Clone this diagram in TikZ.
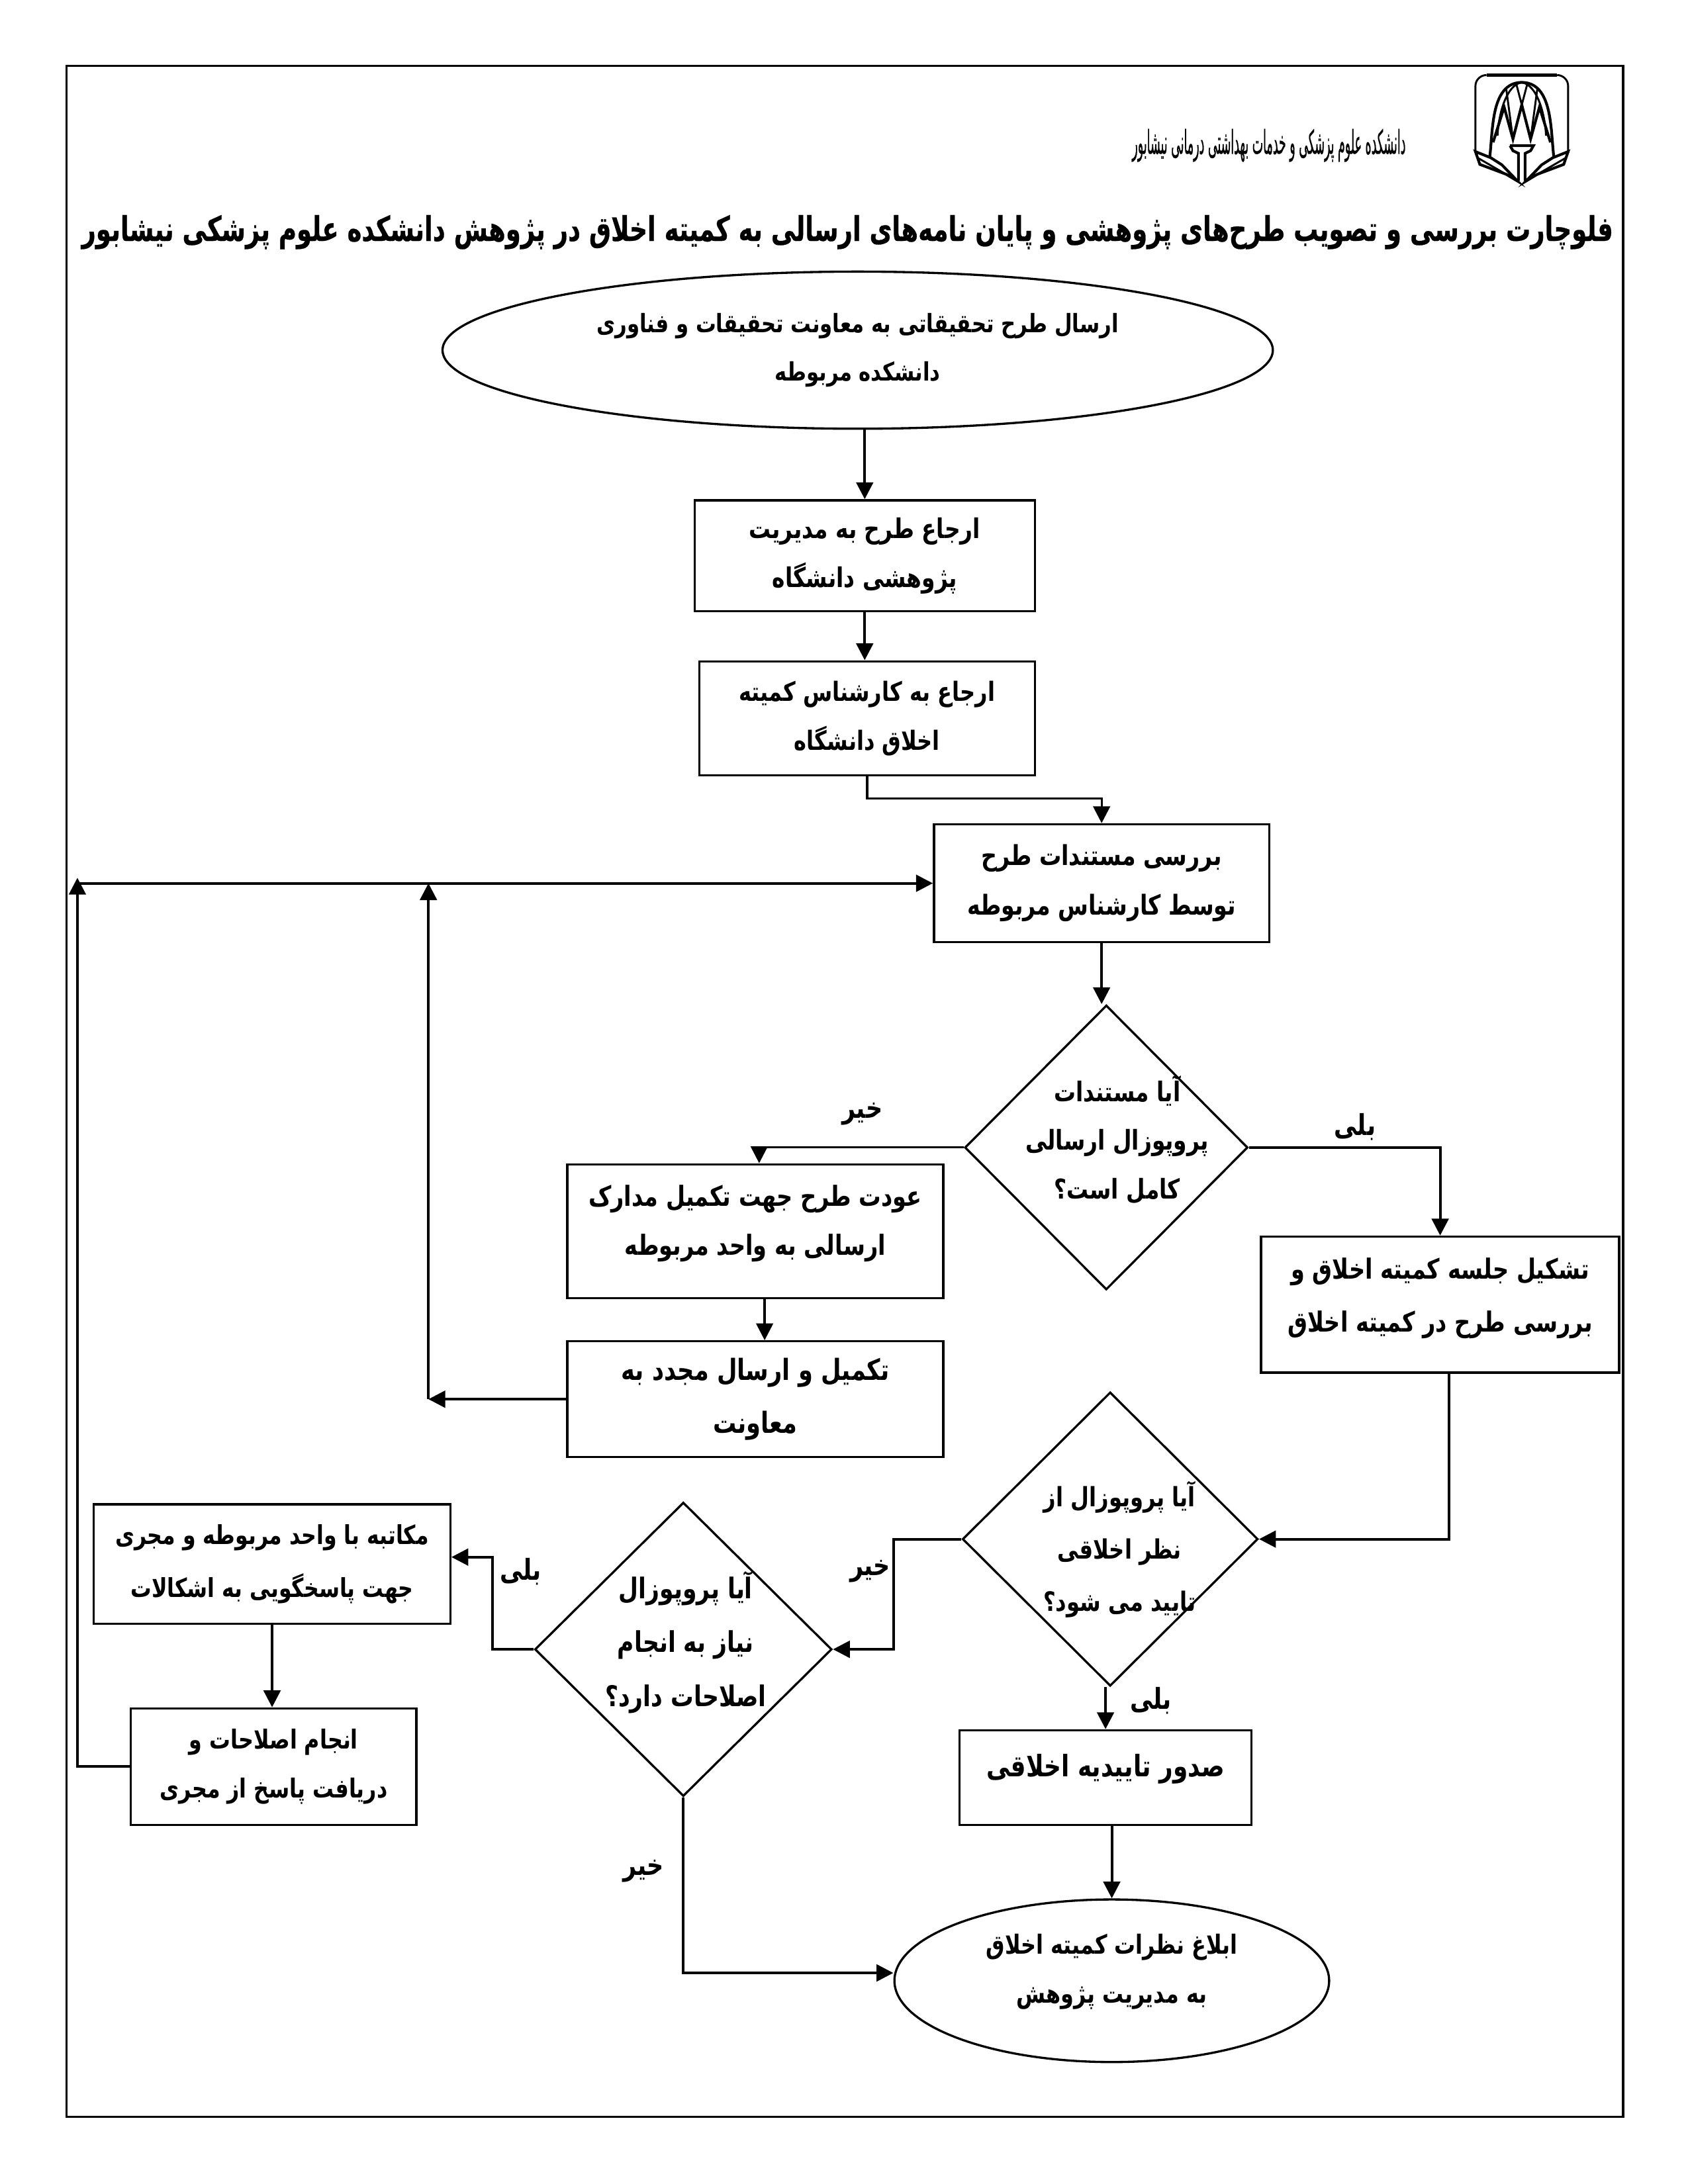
\documentclass[tikz,border=0pt]{standalone}
\usepackage{fontspec}
\usetikzlibrary{arrows.meta}
\usetikzlibrary{shapes.geometric}
\TeXXeTstate=1
\newfontfamily\farsi[Script=Arabic,FakeStretch=0.8]{DejaVu Sans}
\newfontfamily\farsititle[Script=Arabic,FakeStretch=0.72,FakeBold=0.5]{DejaVu Sans}
\newfontfamily\farsilogo[Script=Arabic,FakeStretch=0.35,FakeBold=0.4]{DejaVu Sans}
\newcommand{\fa}[1]{\beginR #1\endR}

\begin{document}
\begin{tikzpicture}[
    every node/.style={align=center},
    fs/.style 2 args={font=\farsi\bfseries\fontsize{#1}{#2}\selectfont},
    boxnode/.style 2 args={draw, rectangle, thick, inner sep=0pt, minimum width=#1cm, minimum height=#2cm},
    oval/.style 2 args={draw, ellipse, thick, inner sep=0pt, minimum width=#1cm, minimum height=#2cm},
    rhomb/.style 2 args={draw, diamond, thick, inner sep=0pt, minimum width=#1cm, minimum height=#2cm},
    textdrop/.style={execute at begin node={\rule{0pt}{#1}}},
    textlift/.style={execute at end node={\rule[-#1]{0pt}{#1}}},
    answer/.style={fs={10.5}{12}},
    link/.style={-{Triangle[length=2.15mm,width=2.15mm]}, line width=0.95pt},
    thinlink/.style={-{Triangle[length=2.15mm,width=2.15mm]}, thick}
  ]
  \useasboundingbox (0,0) rectangle (21.59,27.94);

  % Frame
  \draw[thick] (0.85,0.857) rectangle (20.76,27.10);

  % Logo
  \begin{scope}[shift={(18.73,27.05)}, x=0.00282cm, y=-0.00282cm, line width=0.7pt]
    \draw (50,375) -- (50,75) .. controls (50,45) and (75,25) .. (100,25);
    \draw (420,25) .. controls (445,25) and (470,45) .. (470,75) -- (470,375);
    \draw[line width=1.2pt] (100,25) -- (420,25);
    \draw[line width=1pt] (115,395) .. controls (130,270) and (120,60) .. (260,58) .. controls (400,60) and (390,270) .. (405,395);
    \draw (150,300) .. controls (155,200) and (190,70) .. (260,58) .. controls (330,70) and (365,200) .. (370,300);
    \draw[line width=1pt] (130,330) -- (180,170) -- (220,315) -- (260,160) -- (300,315) -- (340,170) -- (390,330);
    \draw (190,90) -- (220,315);
    \draw (330,90) -- (300,315);
    \draw (235,65) -- (260,160) -- (285,65);
    \draw[line width=1pt] (207,345) -- (313,345) -- (300,368) -- (275,380) -- (275,505);
    \draw[line width=1pt] (207,345) -- (220,368) -- (245,380) -- (245,505);
    \draw[line width=1pt] (50,372) -- (120,400) -- (170,432) -- (240,505) -- (190,475) -- (70,430) -- cycle;
    \draw (60,400) -- (215,490);
    \draw[line width=1pt] (470,372) -- (400,400) -- (350,432) -- (280,505) -- (330,475) -- (450,430) -- cycle;
    \draw (460,400) -- (305,490);
  \end{scope}
  \node[font=\farsilogo\fontsize{12}{14}\selectfont] (motto) at (16.23,26.08) {\fa{دانشکده علوم پزشکی و خدمات بهداشتی درمانی نیشابور}};

  % Title
  \node[font=\farsititle\bfseries\fontsize{12.4}{15}\selectfont] (title) at (10.84,24.97) {\fa{فلوچارت بررسی و تصویب طرح‌های پژوهشی و پایان نامه‌های ارسالی به کمیته اخلاق در پژوهش دانشکده علوم پزشکی نیشابور}};

  % Nodes
  \node[oval={10.62}{2.01}, fs={9.25}{17.7}, textdrop=24pt] (send) at (10.97,23.46) {\fa{ارسال طرح تحقیقاتی به معاونت تحقیقات و فناوری}\\\fa{دانشکده مربوطه}};
  \node[boxnode={4.35}{1.42}, fs={9.9}{17.7}, textdrop=24pt] (refer) at (11.06,20.83) {\fa{ارجاع طرح به مدیریت}\\\fa{پژوهشی دانشگاه}};
  \node[boxnode={4.29}{1.46}, fs={9.65}{17.7}, textdrop=22pt] (expert) at (11.09,18.75) {\fa{ارجاع به کارشناس کمیته}\\\fa{اخلاق دانشگاه}};
  \node[boxnode={4.29}{1.51}, fs={10}{18}, textdrop=23pt] (check) at (14.09,16.64) {\fa{بررسی مستندات طرح}\\\fa{توسط کارشناس مربوطه}};
  \node[rhomb={3.62}{3.64}] (complete) at (14.15,13.26) {};
  \node[boxnode={4.81}{1.71}, fs={10.1}{17.7}, textlift=8pt] (back) at (9.66,12.19) {\fa{عودت طرح جهت تکمیل مدارک}\\\fa{ارسالی به واحد مربوطه}};
  \node[boxnode={4.81}{1.48}, fs={10.6}{19.2}, textdrop=23pt] (resend) at (9.66,10.04) {\fa{تکمیل و ارسال مجدد به}\\\fa{معاونت}};
  \node[boxnode={4.58}{1.74}, fs={10.1}{19.2}, textlift=7pt] (meeting) at (18.42,11.25) {\fa{تشکیل جلسه کمیته اخلاق  و}\\\fa{بررسی طرح در کمیته اخلاق}};
  \node[rhomb={3.78}{3.76}] (ethical) at (14.20,8.25) {};
  \node[rhomb={3.80}{3.76}] (revise) at (8.74,6.84) {};
  \node[boxnode={4.56}{1.53}, fs={9.5}{19.2}, textdrop=20pt] (letter) at (3.48,7.93) {\fa{مکاتبه با واحد مربوطه و مجری}\\\fa{جهت پاسخگویی به اشکالات}};
  \node[boxnode={3.65}{1.49}, fs={9.55}{17.7}, textdrop=20pt] (reply) at (3.50,5.34) {\fa{انجام اصلاحات و}\\\fa{دریافت پاسخ از مجری}};
  \node[boxnode={3.73}{1.21}, fs={10.8}{17.7}, textlift=9pt] (approve) at (14.14,5.20) {\fa{صدور تاییدیه اخلاقی}};
  \node[oval={5.56}{2.08}, fs={9.6}{17.7}, textlift=9pt] (notify) at (14.22,2.60) {\fa{ابلاغ نظرات کمیته اخلاق}\\\fa{به مدیریت پژوهش}};

  % Texts of the diamonds
  \node[fs={9.9}{17.7}] (completetext) at (14.29,13.36) {\fa{آیا مستندات}\\\fa{پروپوزال ارسالی}\\\fa{کامل است؟}};
  \node[fs={9.7}{19}] (ethicaltext) at (14.32,8.12) {\fa{آیا پروپوزال از}\\\fa{نظر اخلاقی}\\\fa{تایید می شود؟}};
  \node[fs={10.4}{19.7}] (revisetext) at (8.77,6.93) {\fa{آیا پروپوزال}\\\fa{نیاز به انجام}\\\fa{اصلاحات دارد؟}};

  % Answers
  \node[answer] (no1) at (11.03,13.69) {\fa{خیر}};
  \node[answer] (yes1) at (17.33,13.52) {\fa{بلی}};
  \node[answer] (no2) at (11.13,7.84) {\fa{خیر}};
  \node[answer] (yes2) at (6.66,7.83) {\fa{بلی}};
  \node[answer] (yes3) at (14.72,6.18) {\fa{بلی}};
  \node[answer] (no3) at (8.23,4.00) {\fa{خیر}};

  % Corners of the return lines
  \coordinate (inner) at (5.48,10.04);
  \coordinate (outer) at (0.99,16.64);

  % Edges
  \draw[link] (refer.north |- send.south) -- (refer.north);
  \draw[link] (refer.south) -- (refer.south |- expert.north);
  \draw[thinlink] (expert.south) -- ++(0,-0.28) -| (check.north);
  \draw[link] (check.south) -- (check.south |- complete.north);
  \draw[thinlink] (complete.west) -| ([xshift=0.5mm]back.north);
  \draw[link] (complete.east) -| (meeting.north);
  \draw[thinlink] ([xshift=1.2mm]back.south) -- ([xshift=1.2mm]resend.north);
  \draw[link] (resend.west) -- (inner);
  \draw[link] (inner) -- (inner |- check.west);
  \draw[link] (outer) -- (check.west);
  \draw[link] (reply.west) -| ([yshift=0.7mm]outer);
  \draw[link] ([xshift=1.1mm]meeting.south) |- (ethical.east);
  \draw[link] (ethical.west) -- ++(-0.87,0) |- (revise.east);
  \draw[link] (approve.north |- ethical.south) -- (approve.north);
  \draw[link] (revise.west) -- ++(-0.53,0) |- ([yshift=0.9mm]letter.east);
  \draw[link] (letter.south) -- (letter.south |- reply.north);
  \draw[link] (revise.south) |- ([yshift=1mm]notify.west);
  \draw[link] (notify.north |- approve.south) -- (notify.north);
\end{tikzpicture}
\end{document}
